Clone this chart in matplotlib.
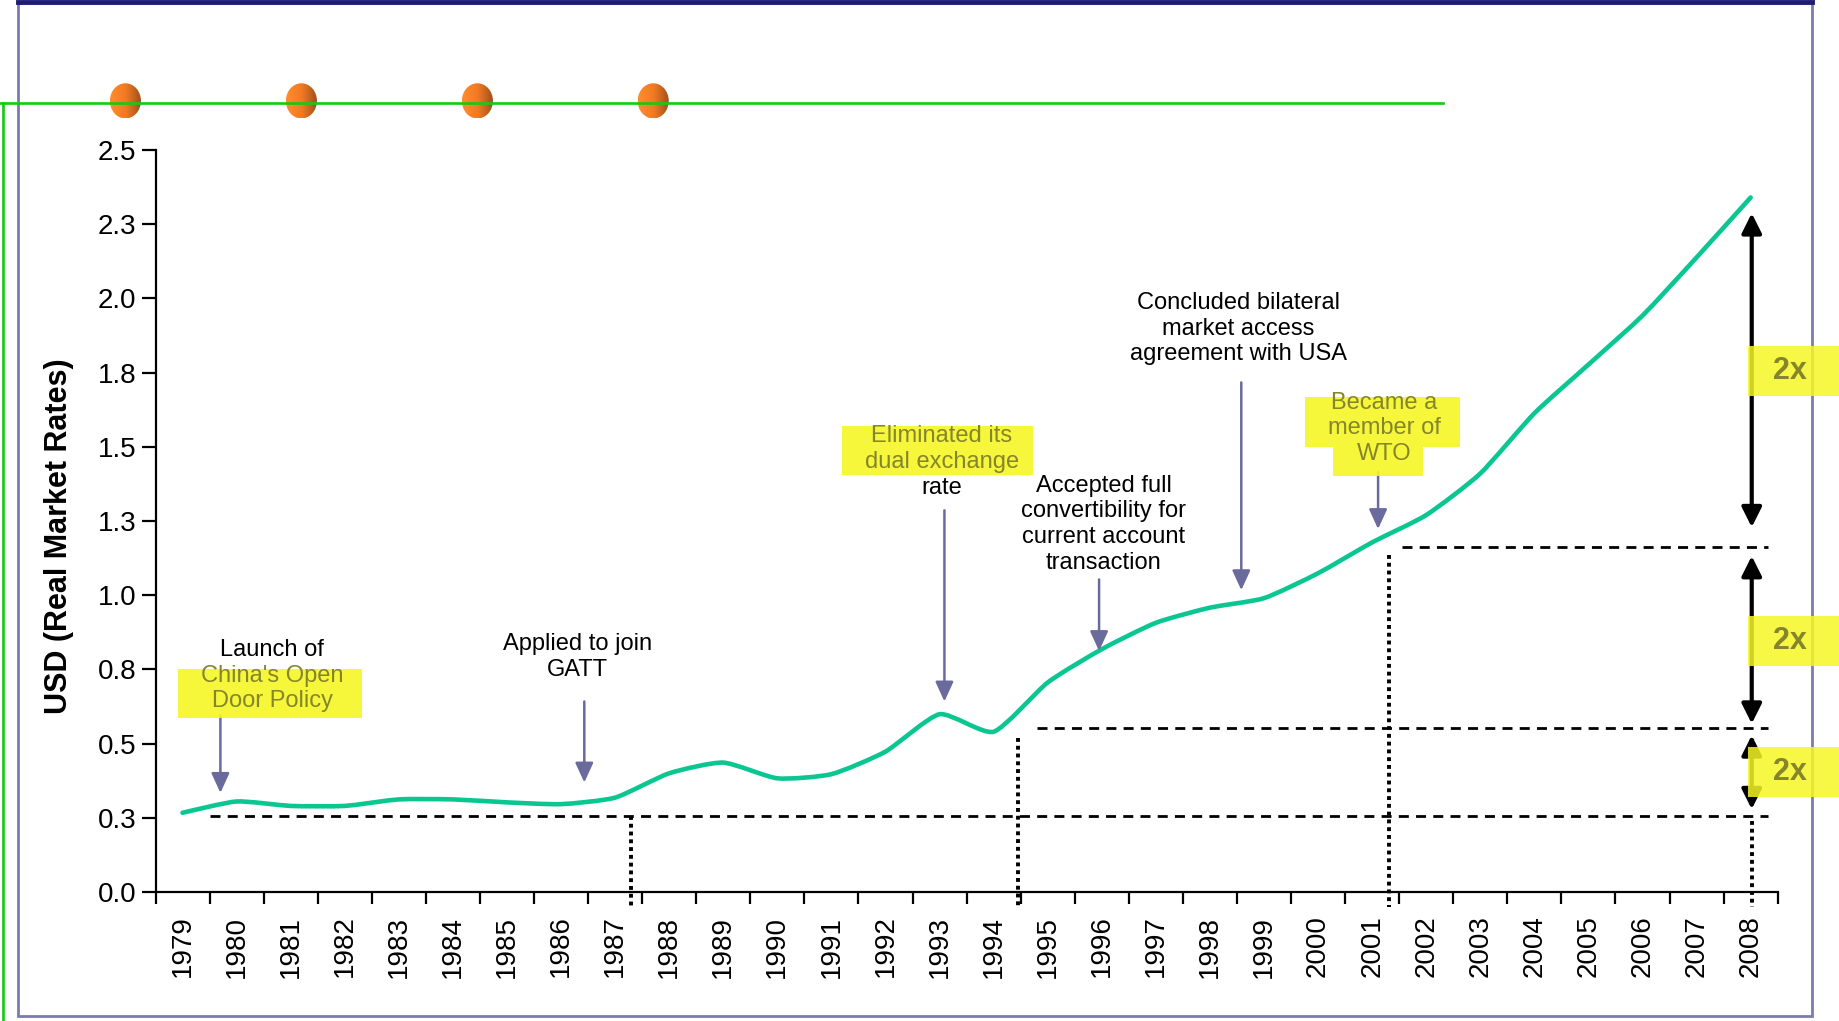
import numpy as np
import matplotlib.pyplot as plt
from matplotlib.path import Path
from matplotlib.patches import PathPatch, Rectangle, Ellipse
from matplotlib.colors import LinearSegmentedColormap
from matplotlib.lines import Line2D

plt.rcParams['font.family'] = ['Liberation Sans', 'DejaVu Sans']

# --- Data ---
years = [str(y) for y in range(1979, 2009)]
usd_rate = [0.267, 0.305, 0.290, 0.290, 0.312, 0.312, 0.302, 0.296, 0.318, 0.400,
            0.436, 0.383, 0.397, 0.473, 0.599, 0.540, 0.706, 0.818, 0.907, 0.958,
            0.990, 1.074, 1.178, 1.270, 1.410, 1.613, 1.777, 1.942, 2.138, 2.340]
y_ticks = [0.0, 0.25, 0.5, 0.75, 1.0, 1.25, 1.5, 1.75, 2.0, 2.25, 2.5]
y_tick_labels = ['0.0', '0.3', '0.5', '0.8', '1.0', '1.3', '1.5', '1.8', '2.0', '2.3', '2.5']

# doubling levels (dashed) and where they are reached (dotted)
level_values = [0.255, 0.554, 1.163]
level_starts = [1.01, 16.30, 23.06]
reach_x = [8.79, 15.95, 22.81, 29.52]
reach_top = [0.255, 0.518, 1.135, 0.239]

# event annotations: lines, highlighted flags, x, first line y, arrow x, arrow from, arrow to
events = [
    (["Launch of", "China's Open", "Door Policy"], [0, 1, 1], 2.16, 0.816, 1.20, 0.595, 0.334),
    (["Applied to join", "GATT"], [0, 0], 7.80, 0.836, 7.93, 0.642, 0.369),
    (["Eliminated its", "dual exchange", "rate"], [1, 1, 0], 14.54, 1.535, 14.59, 1.286, 0.642),
    (["Accepted full", "convertibility for", "current account", "transaction"], [0, 0, 0, 0],
     17.54, 1.369, 17.45, 1.053, 0.812),
    (["Concluded bilateral", "market access", "agreement with USA"], [0, 0, 0],
     20.03, 1.985, 20.08, 1.717, 1.017),
    (["Became a", "member of", "WTO"], [1, 1, 1], 22.72, 1.649, 22.61, 1.416, 1.223),
]
# yellow marker boxes (x0, x1, y0, y1) in data units
highlights = [(0.42, 3.81, 0.587, 0.753), (12.70, 16.23, 1.405, 1.571),
              (21.25, 24.13, 1.498, 1.669), (21.77, 23.44, 1.403, 1.498)]

# doubling arrows
double_arrows = [(2.287, 1.229), (1.132, 0.567), (0.528, 0.279)]
two_x_y = [1.755, 0.845, 0.405]

line_color = '#0ac792'
arrow_color = '#6a6a9c'
marker_yellow = '#f6f626'
marker_text = '#85852c'

fig = plt.figure(figsize=(18.39, 10.21), dpi=100)
ax = fig.add_axes([0.08456, 0.12635, 0.8821, 0.72674])

# lightly smoothed line through the yearly values
xs = np.arange(len(years)) + 0.5
pts = np.column_stack([xs, usd_rate])
verts = [pts[0]]
codes = [Path.MOVETO]
n = len(pts)
for i in range(n - 1):
    p0 = pts[max(i - 1, 0)]
    p1 = pts[i]
    p2 = pts[i + 1]
    p3 = pts[min(i + 2, n - 1)]
    c1 = p1 + (p2 - p0) / 10.0
    c2 = p2 - (p3 - p1) / 10.0
    verts += [c1, c2, p2]
    codes += [Path.CURVE4] * 3
ax.add_patch(PathPatch(Path(verts, codes), facecolor='none', edgecolor=line_color,
                       lw=3.3, capstyle='round', joinstyle='round', zorder=3))

# dashed levels
for lv, x0 in zip(level_values, level_starts):
    ax.plot([x0, 29.83], [lv, lv], color='black', lw=2.0, ls=(0, (3.6, 2.6)), zorder=2,
            clip_on=False)
for xv, top in zip(reach_x, reach_top):
    ax.plot([xv, xv], [top, -0.05], color='black', lw=2.8, ls=(0, (1, 1)), zorder=2,
            clip_on=False)

# double arrows
for top, bot in double_arrows:
    ax.annotate('', xy=(29.52, top), xytext=(29.52, bot),
                arrowprops=dict(arrowstyle='<|-|>,head_length=1.2,head_width=0.6',
                                lw=3.0, color='black', shrinkA=0, shrinkB=0,
                                mutation_scale=10),
                annotation_clip=False, zorder=3)

# highlights
for x0, x1, y0, y1 in highlights:
    ax.add_patch(Rectangle((x0, y0), x1 - x0, y1 - y0, facecolor=marker_yellow,
                           edgecolor='none', alpha=0.9, zorder=4))
for yy in two_x_y:
    ax.add_patch(Rectangle((29.45, yy - 0.085), 1.69, 0.17, facecolor=marker_yellow,
                           edgecolor='none', alpha=0.85, zorder=4, clip_on=False))
    ax.text(30.23, yy, '2x', ha='center', va='center', fontsize=22, fontweight='bold',
            color=marker_text, zorder=5, clip_on=False)

# event texts and arrows
line_step = 0.087
for lines, flags, tx, ty, axx, ay0, ay1 in events:
    for k, (txt, hl) in enumerate(zip(lines, flags)):
        ax.text(tx, ty - k * line_step, txt, ha='center', va='center', fontsize=17,
                color=marker_text if hl else 'black', zorder=5)
    ax.annotate('', xy=(axx, ay1), xytext=(axx, ay0),
                arrowprops=dict(arrowstyle='-|>,head_length=1.2,head_width=0.55',
                                lw=1.8, color=arrow_color, shrinkA=0, shrinkB=0,
                                mutation_scale=10),
                zorder=3)

# axes styling
ax.set_xlim(0, 30)
ax.set_ylim(0, 2.5)
ax.spines['top'].set_visible(False)
ax.spines['right'].set_visible(False)
ax.spines['left'].set_linewidth(1.6)
ax.spines['bottom'].set_linewidth(1.6)
ax.set_yticks(y_ticks)
ax.set_yticklabels(y_tick_labels)
ax.tick_params(axis='y', length=10, width=1.6, pad=4, labelsize=20)
ax.set_xticks(range(31))
ax.set_xticklabels([])
ax.set_xticks(xs, minor=True)
ax.set_xticklabels(years, minor=True, rotation=90)
ax.tick_params(axis='x', which='major', length=8.5, width=1.6)
ax.tick_params(axis='x', which='minor', length=0, pad=17, labelsize=20)
ax.patch.set_alpha(0)

fig.text(0.032, 0.475, 'USD (Real Market Rates)', rotation=90, ha='center', va='center',
         fontsize=22, fontweight='bold')

# slide decorations: frame, green rule, orange bullets
fig.add_artist(Rectangle((0.0096, 0.0053), 0.9757, 0.9927, transform=fig.transFigure,
                         facecolor='none', edgecolor='#7b7bb0', lw=2.0, zorder=0))
fig.add_artist(Line2D([0.0096, 0.9853], [0.9985, 0.9985], transform=fig.transFigure,
                      color='#1c1c72', lw=3.5))
fig.add_artist(Line2D([0.0, 0.7845], [0.899, 0.899], transform=fig.transFigure,
                      color='#11cc11', lw=1.9))
fig.add_artist(Line2D([0.0014, 0.0014], [0.899, 0.0], transform=fig.transFigure,
                      color='#11cc11', lw=1.9))

bullet_cmap = LinearSegmentedColormap.from_list('bullet', ['#ff8c2e', '#f07a24', '#9c4e1c'])
grad = np.linspace(0, 1, 64).reshape(1, -1)
for cx in [0.0682, 0.1639, 0.2596, 0.3552]:
    w, h = 0.0169, 0.0345
    bax = fig.add_axes([cx - w / 2, 0.9012 - h / 2, w, h])
    bax.axis('off')
    im = bax.imshow(grad, cmap=bullet_cmap, extent=(0, 1, 0, 1), aspect='auto')
    el = Ellipse((0.5, 0.5), 1, 1, transform=bax.transAxes, facecolor='none')
    bax.add_patch(el)
    im.set_clip_path(el)

fig.savefig('out.png', dpi=100)
